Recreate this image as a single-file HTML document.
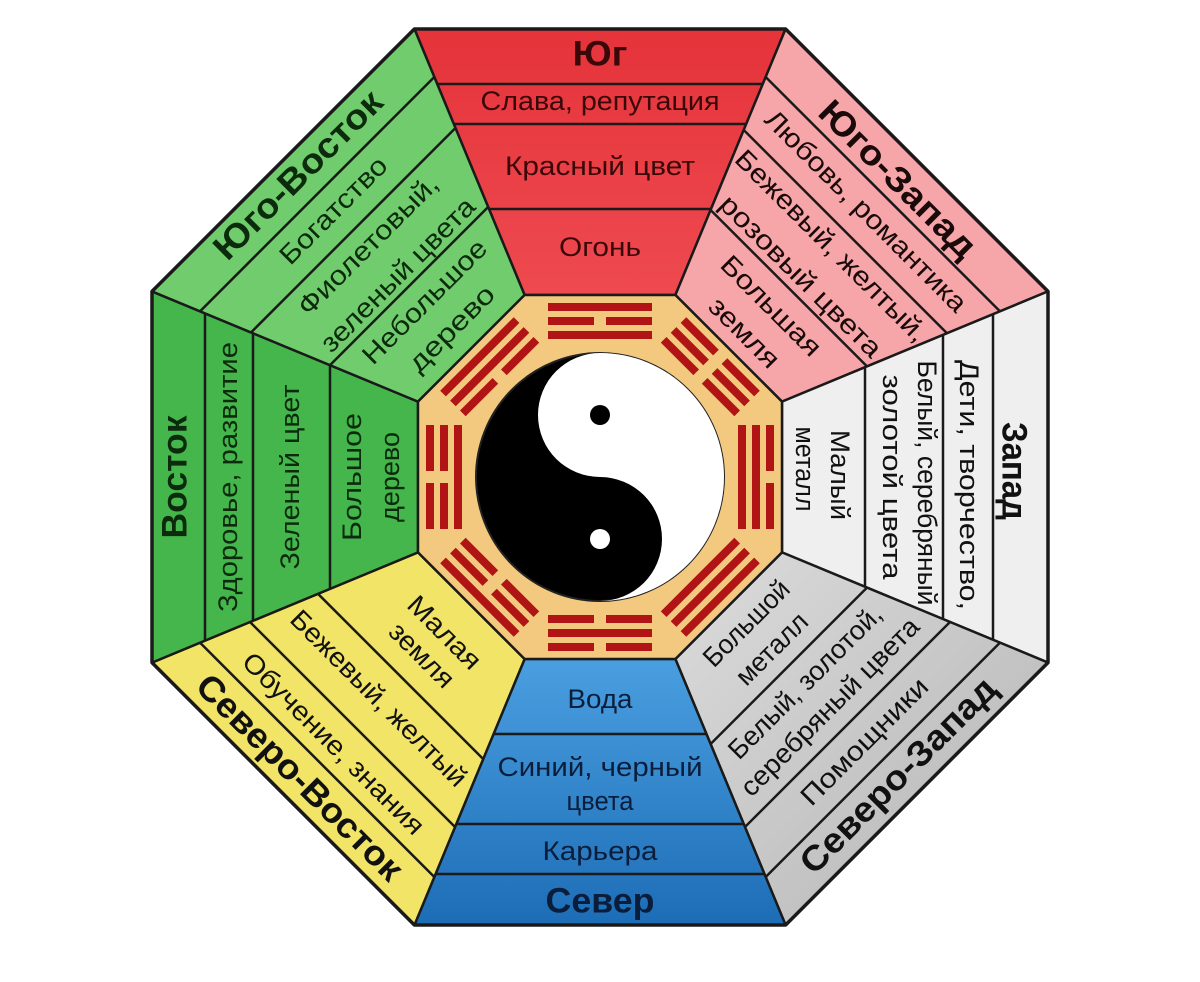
<!DOCTYPE html>
<html><head><meta charset="utf-8"><style>
html,body{margin:0;padding:0;background:#fff;width:1200px;height:982px;overflow:hidden}
svg{display:block}
text{font-family:"Liberation Sans",sans-serif;font-size:27px;text-anchor:middle;dominant-baseline:central}
.t{font-weight:bold;font-size:35px}
</style></head><body>
<svg width="1200" height="982" viewBox="0 0 1200 982" xmlns="http://www.w3.org/2000/svg">
<defs>
<linearGradient id="gb" gradientUnits="userSpaceOnUse" x1="0" y1="29" x2="0" y2="295"><stop offset="0" stop-color="#1d6db6"/><stop offset="1" stop-color="#4a9fe0"/></linearGradient>
<linearGradient id="gr" gradientUnits="userSpaceOnUse" x1="0" y1="29" x2="0" y2="295"><stop offset="0" stop-color="#e5333a"/><stop offset="1" stop-color="#ee4a50"/></linearGradient>
<linearGradient id="gg" gradientUnits="userSpaceOnUse" x1="0" y1="29" x2="0" y2="295"><stop offset="0" stop-color="#c2c2c2"/><stop offset="1" stop-color="#d6d6d6"/></linearGradient>
<rect id="s1" x="548" y="303" width="104" height="8"/>
<rect id="s2" x="548" y="317" width="104" height="8"/>
<rect id="s3" x="548" y="331" width="104" height="8"/>
<g id="b1"><rect x="548" y="303" width="46" height="8"/><rect x="606" y="303" width="46" height="8"/></g>
<g id="b2"><rect x="548" y="317" width="46" height="8"/><rect x="606" y="317" width="46" height="8"/></g>
<g id="b3"><rect x="548" y="331" width="46" height="8"/><rect x="606" y="331" width="46" height="8"/></g>
</defs>
<g stroke="#1a1a1a" stroke-width="2.5" stroke-linejoin="round">
<g transform="rotate(0 600 477)">
<polygon points="414.4,29 785.6,29 675.4,295 524.6,295" fill="url(#gr)"/>
<line x1="437.2" y1="84" x2="762.8" y2="84"/><line x1="453.8" y1="124" x2="746.2" y2="124"/><line x1="489" y1="209" x2="711" y2="209"/>
</g>
<g transform="rotate(45 600 477)">
<polygon points="414.4,29 785.6,29 675.4,295 524.6,295" fill="#f6a5a9"/>
<line x1="434.3" y1="77" x2="765.7" y2="77"/><line x1="456.3" y1="130" x2="743.7" y2="130"/><line x1="489.4" y1="210" x2="710.6" y2="210"/>
</g>
<g transform="rotate(90 600 477)">
<polygon points="414.4,29 785.6,29 675.4,295 524.6,295" fill="#efefef"/>
<line x1="437.2" y1="84" x2="762.8" y2="84"/><line x1="457.9" y1="134" x2="742.1" y2="134"/><line x1="490.2" y1="212" x2="709.8" y2="212"/>
</g>
<g transform="rotate(135 600 477)">
<polygon points="414.4,29 785.6,29 675.4,295 524.6,295" fill="url(#gg)"/>
<line x1="434.3" y1="77" x2="765.7" y2="77"/><line x1="455" y1="127" x2="745" y2="127"/><line x1="489.4" y1="210" x2="710.6" y2="210"/>
</g>
<g transform="rotate(180 600 477)">
<polygon points="414.4,29 785.6,29 675.4,295 524.6,295" fill="url(#gb)"/>
<line x1="435.6" y1="80" x2="764.4" y2="80"/><line x1="456.3" y1="130" x2="743.7" y2="130"/><line x1="493.5" y1="220" x2="706.5" y2="220"/>
</g>
<g transform="rotate(225 600 477)">
<polygon points="414.4,29 785.6,29 675.4,295 524.6,295" fill="#f1e466"/>
<line x1="434.3" y1="77" x2="765.7" y2="77"/><line x1="455" y1="127" x2="745" y2="127"/><line x1="483.2" y1="195" x2="716.8" y2="195"/>
</g>
<g transform="rotate(270 600 477)">
<polygon points="414.4,29 785.6,29 675.4,295 524.6,295" fill="#44b64b"/>
<line x1="436.4" y1="82" x2="763.6" y2="82"/><line x1="456.3" y1="130" x2="743.7" y2="130"/><line x1="488.2" y1="207" x2="711.8" y2="207"/>
</g>
<g transform="rotate(315 600 477)">
<polygon points="414.4,29 785.6,29 675.4,295 524.6,295" fill="#70cc6c"/>
<line x1="434.3" y1="77" x2="765.7" y2="77"/><line x1="455.4" y1="128" x2="744.6" y2="128"/><line x1="488.2" y1="207" x2="711.8" y2="207"/>
</g>
<polygon points="524.6,295 675.4,295 782,401.6 782,552.4 675.4,659 524.6,659 418,552.4 418,401.6" fill="#f3c97f"/>
<polygon points="414.4,29 785.6,29 1048,291.4 1048,662.6 785.6,925 414.4,925 152,662.6 152,291.4" fill="none" stroke-width="3.5"/>
</g>

<g fill="#b01414">
<g transform="rotate(0 600 477)"><use href="#s1"/><use href="#b2"/><use href="#s3"/></g>
<g transform="rotate(45 600 477)"><use href="#b1"/><use href="#b2"/><use href="#b3"/></g>
<g transform="rotate(90 600 477)"><use href="#b1"/><use href="#s2"/><use href="#s3"/></g>
<g transform="rotate(135 600 477)"><use href="#s1"/><use href="#s2"/><use href="#s3"/></g>
<g transform="rotate(180 600 477)"><use href="#b1"/><use href="#s2"/><use href="#b3"/></g>
<g transform="rotate(225 600 477)"><use href="#s1"/><use href="#b2"/><use href="#b3"/></g>
<g transform="rotate(270 600 477)"><use href="#b1"/><use href="#b2"/><use href="#s3"/></g>
<g transform="rotate(315 600 477)"><use href="#s1"/><use href="#s2"/><use href="#b3"/></g>
</g>

<circle cx="600" cy="477" r="124" fill="#000" stroke="#222" stroke-width="2"/>
<path d="M600,353 A124,124 0 0 1 600,601 A62,62 0 0 0 600,477 A62,62 0 0 1 600,353 Z" fill="#fff"/>
<circle cx="600" cy="415" r="10" fill="#000"/>
<circle cx="600" cy="539" r="10" fill="#fff"/>

<g fill="#3a0808">
<text class="t" x="600" y="54" textLength="55" lengthAdjust="spacingAndGlyphs">Юг</text>
<text x="600" y="101" textLength="239" lengthAdjust="spacingAndGlyphs">Слава, репутация</text>
<text x="600" y="166" textLength="190" lengthAdjust="spacingAndGlyphs">Красный цвет</text>
<text x="600" y="247" textLength="82" lengthAdjust="spacingAndGlyphs">Огонь</text>
</g>
<g fill="#1a0a0a" transform="rotate(45 600 477)">
<text class="t" x="600" y="56" textLength="207" lengthAdjust="spacingAndGlyphs">Юго-Запад</text>
<text x="600" y="101" textLength="273" lengthAdjust="spacingAndGlyphs">Любовь, романтика</text>
<text x="600" y="150" textLength="259" lengthAdjust="spacingAndGlyphs">Бежевый, желтый,</text>
<text x="600" y="193" textLength="217" lengthAdjust="spacingAndGlyphs">розовый цвета</text>
<text x="600" y="235" textLength="130" lengthAdjust="spacingAndGlyphs">Большая</text>
<text x="600" y="273" textLength="88" lengthAdjust="spacingAndGlyphs">земля</text>
</g>
<g fill="#111" transform="rotate(90 600 477)">
<text class="t" x="594" y="63" textLength="98" lengthAdjust="spacingAndGlyphs">Запад</text>
<text x="608" y="108" textLength="250" lengthAdjust="spacingAndGlyphs">Дети, творчество,</text>
<text x="606" y="150" textLength="245" lengthAdjust="spacingAndGlyphs">Белый, серебряный</text>
<text x="600" y="185" textLength="205" lengthAdjust="spacingAndGlyphs">золотой цвета</text>
<text x="598" y="237" textLength="90" lengthAdjust="spacingAndGlyphs">Малый</text>
<text x="592" y="272" textLength="85" lengthAdjust="spacingAndGlyphs">металл</text>
</g>
<g fill="#111" transform="rotate(135 600 477)">
<text class="t" x="600" y="55" transform="rotate(180 600 55)" textLength="262" lengthAdjust="spacingAndGlyphs">Северо-Запад</text>
<text x="600" y="103" transform="rotate(180 600 103)" textLength="168" lengthAdjust="spacingAndGlyphs">Помощники</text>
<text x="600" y="152" transform="rotate(180 600 152)" textLength="240" lengthAdjust="spacingAndGlyphs">серебряный цвета</text>
<text x="600" y="187" transform="rotate(180 600 187)" textLength="205" lengthAdjust="spacingAndGlyphs">Белый, золотой,</text>
<text x="600" y="234" transform="rotate(180 600 234)" textLength="90" lengthAdjust="spacingAndGlyphs">металл</text>
<text x="600" y="270" transform="rotate(180 600 270)" textLength="110" lengthAdjust="spacingAndGlyphs">Большой</text>
</g>
<g fill="#0a1e3c">
<text class="t" x="600" y="901" textLength="109" lengthAdjust="spacingAndGlyphs">Север</text>
<text x="600" y="851" textLength="115" lengthAdjust="spacingAndGlyphs">Карьера</text>
<text x="600" y="767" textLength="205" lengthAdjust="spacingAndGlyphs">Синий, черный</text>
<text x="600" y="801" textLength="67" lengthAdjust="spacingAndGlyphs">цвета</text>
<text x="600" y="699" textLength="65" lengthAdjust="spacingAndGlyphs">Вода</text>
</g>
<g fill="#111" transform="rotate(225 600 477)">
<text class="t" x="600" y="52" transform="rotate(180 600 52)" textLength="276" lengthAdjust="spacingAndGlyphs">Северо-Восток</text>
<text x="600" y="100" transform="rotate(180 600 100)" textLength="245" lengthAdjust="spacingAndGlyphs">Обучение, знания</text>
<text x="600" y="164" transform="rotate(180 600 164)" textLength="237" lengthAdjust="spacingAndGlyphs">Бежевый, желтый</text>
<text x="600" y="225" transform="rotate(180 600 225)" textLength="80" lengthAdjust="spacingAndGlyphs">земля</text>
<text x="600" y="257" transform="rotate(180 600 257)" textLength="92" lengthAdjust="spacingAndGlyphs">Малая</text>
</g>
<g fill="#0c2a0c" transform="rotate(270 600 477)">
<text class="t" x="600" y="52" textLength="123" lengthAdjust="spacingAndGlyphs">Восток</text>
<text x="600" y="105" textLength="270" lengthAdjust="spacingAndGlyphs">Здоровье, развитие</text>
<text x="600" y="167" textLength="185" lengthAdjust="spacingAndGlyphs">Зеленый цвет</text>
<text x="600" y="229" textLength="128" lengthAdjust="spacingAndGlyphs">Большое</text>
<text x="600" y="267" textLength="90" lengthAdjust="spacingAndGlyphs">дерево</text>
</g>
<g fill="#0c2a0c" transform="rotate(315 600 477)">
<text class="t" x="600" y="50" textLength="223" lengthAdjust="spacingAndGlyphs">Юго-Восток</text>
<text x="600" y="100" textLength="140" lengthAdjust="spacingAndGlyphs">Богатство</text>
<text x="600" y="149" textLength="186" lengthAdjust="spacingAndGlyphs">Фиолетовый,</text>
<text x="600" y="191" textLength="206" lengthAdjust="spacingAndGlyphs">зеленый цвета</text>
<text x="600" y="229" textLength="164" lengthAdjust="spacingAndGlyphs">Небольшое</text>
<text x="600" y="267" textLength="110" lengthAdjust="spacingAndGlyphs">дерево</text>
</g>
</svg>
</body></html>
